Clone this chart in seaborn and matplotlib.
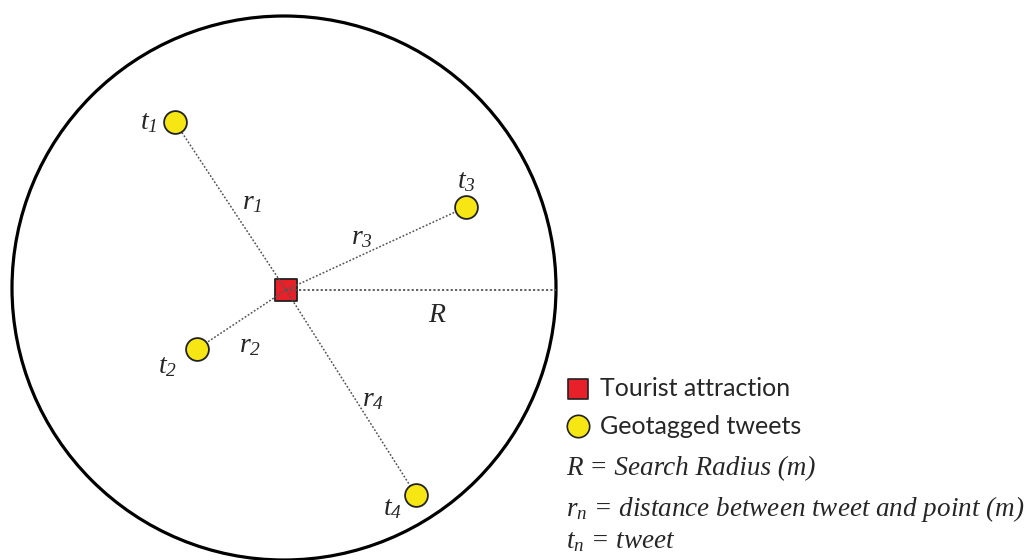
import pandas as pd
import matplotlib.pyplot as plt
import seaborn as sns
from matplotlib.patches import Circle

# Diagram layout (pixel-like coordinates, y down)
attraction = (286, 290)
tweet_names = ["t1", "t2", "t3", "t4"]
tweet_x = [175, 197, 466, 416]
tweet_y = [122, 349, 207, 495]
tweet_labels = [r"$t_1$", r"$t_2$", r"$t_3$", r"$t_4$"]
tweet_label_x = [149, 168, 466, 393]
tweet_label_y = [121, 365, 180, 507]
dist_labels = [r"$r_1$", r"$r_2$", r"$r_3$", r"$r_4$"]
dist_label_x = [252, 250, 362, 373]
dist_label_y = [201, 344, 236, 398]
circle_center = (284, 288)
circle_radius = 272

sns.set_theme(style="white")
plt.rcParams["mathtext.fontset"] = "custom"
plt.rcParams["mathtext.rm"] = "Liberation Serif:italic"
plt.rcParams["mathtext.it"] = "Liberation Serif:italic"

df = pd.DataFrame({"name": tweet_names, "x": tweet_x, "y": tweet_y})

fig = plt.figure(figsize=(10.35, 5.6), dpi=100)
ax = fig.add_axes([0, 0, 1, 1])
ax.set_xlim(0, 1035)
ax.set_ylim(560, 0)
ax.axis("off")

# search radius circle
ax.add_patch(Circle(circle_center, circle_radius, fill=False, ec="black", lw=2.3, zorder=1))

# tourist attraction (under the dotted lines)
sns.scatterplot(x=[attraction[0]], y=[attraction[1]], ax=ax, marker="s", s=270, color="#e8202a",
                edgecolor="#222222", linewidth=1.3, zorder=2, legend=False)

# dotted distance lines
for x, y in zip(tweet_x, tweet_y):
    ax.plot([attraction[0], x], [attraction[1], y], ls=(0, (1.2, 1.2)), color="#555555", lw=1.1, zorder=3)
ax.plot([attraction[0], circle_center[0] + circle_radius], [attraction[1], attraction[1]],
        ls=(0, (1.2, 1.2)), color="#555555", lw=1.3, zorder=3)

# tweets
sns.scatterplot(data=df, x="x", y="y", ax=ax, s=270, color="#f5e614", edgecolor="#222222",
                linewidth=1.3, zorder=4, legend=False)

for lab, x, y in zip(tweet_labels, tweet_label_x, tweet_label_y):
    ax.text(x, y, lab, fontsize=20, ha="center", va="center")
for lab, x, y in zip(dist_labels, dist_label_x, dist_label_y):
    ax.text(x, y, lab, fontsize=20, ha="center", va="center")
ax.text(437, 316, "R", fontsize=20, ha="center", va="center",
        family="Liberation Serif", style="italic")

# legend
ax.scatter([578], [389], marker="s", s=220, color="#e8202a", edgecolor="#222222", lw=1.2, zorder=4)
ax.scatter([578], [426], marker="o", s=260, color="#f5e614", edgecolor="#222222", lw=1.2, zorder=4)
ax.text(600, 389, "Tourist attraction", fontsize=18, va="center", family="Lato")
ax.text(600, 426, "Geotagged tweets", fontsize=18, va="center", family="Lato")

serif = dict(fontsize=19.5, va="center", family="Liberation Serif", style="italic")
ax.text(566, 469, "R = Search Radius (m)", **serif)
ax.text(566, 509, r"$r_n$ = distance between tweet and point (m)", **serif)
ax.text(566, 542, r"$t_n$ = tweet", **serif)

plt.savefig("out.png", dpi=100)
